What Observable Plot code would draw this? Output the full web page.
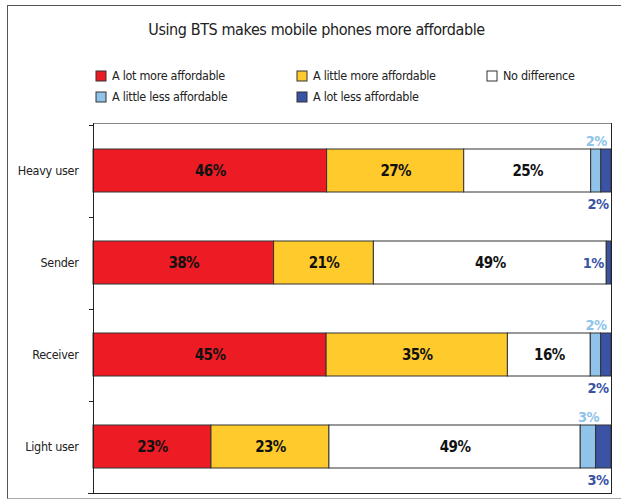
<!DOCTYPE html>
<html>
<head>
<meta charset="utf-8">
<script src="https://cdn.jsdelivr.net/npm/d3@7"></script>
<script src="https://cdn.jsdelivr.net/npm/@observablehq/plot@0.6"></script>
<style>
  html, body { margin: 0; padding: 0; background: #fff; overflow: hidden; width: 621px; height: 503px; }
  body { position: relative; font-family: "Liberation Sans Narrow", "DejaVu Sans Condensed", "Roboto", sans-serif; color: #222; }
  #frame { position: absolute; left: 7px; top: 5px; width: 700px; height: 494px; border: 1px solid #555; border-bottom-color: #aaa; box-sizing: border-box; }
  #title { position: absolute; left: 0; top: 20px; width: 633px; text-align: center; font-size: 16px; letter-spacing: -0.4px; color: #222; }
  #legend { position: absolute; left: 96px; top: 68px; }
  #legend > div { display: grid !important; grid-template-columns: 201px 190px 130px; row-gap: 6px; margin: 0 !important; min-height: 0 !important;
    font-family: "Liberation Sans Narrow", "DejaVu Sans Condensed", "Roboto", sans-serif !important; font-size: 12.5px !important; letter-spacing: -0.3px; color: #222 !important; }
  #legend span { margin: 0 !important; display: inline-flex; align-items: center; }
  #legend span svg { margin-right: 6px !important; overflow: visible; }
  #legend span svg rect { stroke: #333; stroke-width: 1; }
  #chart { position: absolute; left: 0; top: 115px; }
  #chart g[aria-label="y-axis tick label"] { letter-spacing: -0.3px; }
  #chart g[aria-label="text"] { letter-spacing: -0.6px; }
</style>
</head>
<body>
<div id="frame"></div>
<div id="title"></div>
<div id="legend"></div>
<div id="chart"></div>
<script>
const title = "Using BTS makes mobile phones more affordable";
const categories = ["Heavy user", "Sender", "Receiver", "Light user"];
const responses = ["A lot more affordable", "A little more affordable", "No difference", "A little less affordable", "A lot less affordable"];
const colors = ["#ed1c24", "#ffca2c", "#ffffff", "#8fc3ea", "#3a53a4"];
const lotMore = [46, 38, 45, 23];
const littleMore = [27, 21, 35, 23];
const noDifference = [25, 49, 16, 49];
const littleLess = [2, 0, 2, 3];
const lotLess = [2, 1, 2, 3];

const series = [lotMore, littleMore, noDifference, littleLess, lotLess];
const table = [];
categories.forEach((cat, i) => {
  responses.forEach((resp, j) => {
    table.push({cat, resp, value: series[j][i], ri: j, ci: i});
  });
});

document.getElementById("title").textContent = title;

const fontFamily = '"Liberation Sans Narrow", "DejaVu Sans Condensed", Roboto, sans-serif';
const colorScale = {domain: responses, range: colors};

document.getElementById("legend").appendChild(
  Plot.legend({color: {...colorScale, type: "categorical"}, swatchSize: 10, swatchWidth: 10, swatchHeight: 10})
);

const stackOpts = {x: "value", y: "cat", z: "resp", offset: "normalize", order: null};

const frameMark = (index, {y}, values, dims) => {
  const {width, height, marginLeft, marginRight, marginTop, marginBottom} = dims;
  const g = d3.create("svg:g");
  const step = y.step(), bw = y.bandwidth();
  const dom = y.domain();
  const bounds = dom.map(c => y(c) - (step - bw) / 2);
  bounds.push(y(dom[dom.length - 1]) + bw + (step - bw) / 2);
  const x0 = marginLeft, x1 = width - marginRight;
  g.append("line").attr("x1", x0).attr("x2", x1).attr("y1", marginTop + 0.5).attr("y2", marginTop + 0.5).attr("stroke", "#888");
  g.append("line").attr("x1", x0 - 5).attr("x2", x1).attr("y1", height - marginBottom - 0.5).attr("y2", height - marginBottom - 0.5).attr("stroke", "#222");
  g.append("line").attr("x1", x1 + 0.5).attr("x2", x1 + 0.5).attr("y1", marginTop).attr("y2", height - marginBottom).attr("stroke", "#222");
  g.append("line").attr("x1", x0 + 0.5).attr("x2", x0 + 0.5).attr("y1", marginTop).attr("y2", height - marginBottom).attr("stroke", "#222");
  bounds.forEach(b => {
    g.append("line").attr("x1", x0 - 4).attr("x2", x0).attr("y1", Math.round(b) + 0.5).attr("y2", Math.round(b) + 0.5).attr("stroke", "#222");
  });
  return g.node();
};

const plot = Plot.plot({
  width: 621,
  height: 384,
  marginTop: 8,
  marginBottom: 5,
  marginLeft: 93,
  marginRight: 10,
  style: {fontFamily, fontSize: "12.5px", color: "#222", background: "transparent"},
  x: {axis: null},
  y: {domain: categories, paddingInner: 0.536, paddingOuter: 0.268, tickSize: 0, tickPadding: 15, label: null},
  color: colorScale,
  marks: [
    Plot.barX(table, Plot.stackX({...stackOpts, fill: "resp", stroke: "#333", strokeWidth: 1})),
    Plot.text(table, Plot.stackX({...stackOpts,
      text: d => d.ri < 3 ? d.value + "%" : "",
      fontWeight: "bold", fontSize: 15, fill: "#111"})),
    Plot.text(table, Plot.stackX({...stackOpts,
      text: d => d.ri === 3 && d.value > 0 ? d.value + "%" : "",
      fontWeight: "bold", fontSize: 14.5, fill: "#8fc3ea", dy: -30})),
    Plot.text(table, Plot.stackX2({...stackOpts,
      text: d => d.ri === 4 && littleLess[d.ci] > 0 ? d.value + "%" : "",
      fontWeight: "bold", fontSize: 14.5, fill: "#3a53a4", textAnchor: "end", dx: -3, dy: 33})),
    Plot.text(table, Plot.stackX1({...stackOpts,
      text: d => d.ri === 4 && littleLess[d.ci] === 0 ? d.value + "%" : "",
      fontWeight: "bold", fontSize: 14.5, fill: "#3a53a4", textAnchor: "end", dx: -3})),
    frameMark
  ]
});
document.getElementById("chart").appendChild(plot);
</script>
</body>
</html>
